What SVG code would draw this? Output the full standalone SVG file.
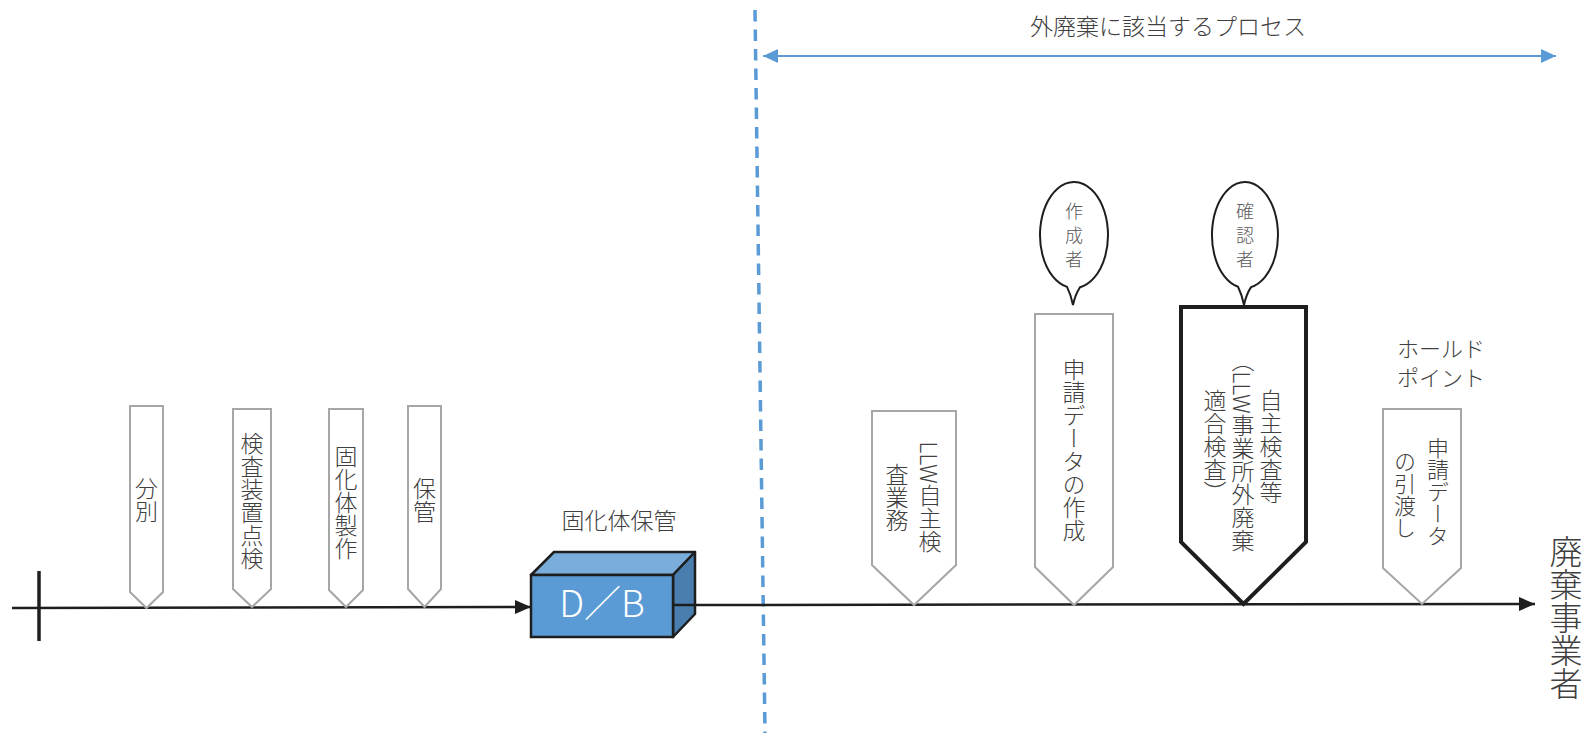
<svg xmlns="http://www.w3.org/2000/svg" width="1588" height="741" viewBox="0 0 1588 741">
<style>
  text { font-family: "Noto Sans CJK JP", "Noto Sans", sans-serif; font-weight: 300; fill: #404040; }
  .vt { writing-mode: vertical-rl; text-anchor: middle; font-size: 23px; }
  .pent { fill: #ffffff; stroke: #a6a6a6; stroke-width: 2; stroke-linejoin: miter; }
  .pentb { fill: #ffffff; stroke: #1e1e1e; stroke-width: 4; stroke-linejoin: miter; }
  .base { fill: none; stroke: #1e1e1e; stroke-width: 2.5; }
  .blue { fill: none; stroke: #5b9bd5; }
  .bubble { fill: #ffffff; stroke: #1e1e1e; stroke-width: 2; }
  .btxt { font-size: 18px; text-anchor: middle; fill: #595959; }
</style>
<defs>
  <marker id="ah" markerUnits="userSpaceOnUse" markerWidth="16" markerHeight="14" refX="16" refY="7" orient="auto">
    <path d="M0,0 L16,7 L0,14 Z" fill="#1e1e1e"/>
  </marker>
  <marker id="bh" markerUnits="userSpaceOnUse" markerWidth="15" markerHeight="14" refX="15" refY="7" orient="auto-start-reverse">
    <path d="M0,0 L15,7 L0,14 Z" fill="#5b9bd5"/>
  </marker>
</defs>
<rect width="1588" height="741" fill="#ffffff"/>

<g id="connectors">
  <line class="base" x1="12" y1="608" x2="531" y2="607" marker-end="url(#ah)"/>
  <line x1="39" y1="571" x2="39" y2="641" stroke="#1e1e1e" stroke-width="3.5"/>
  <line class="blue" x1="755" y1="10" x2="765" y2="733" stroke-width="3.5" stroke-dasharray="11.5 8"/>
  <line class="blue" x1="763" y1="56" x2="1556" y2="56" stroke-width="2" marker-start="url(#bh)" marker-end="url(#bh)"/>
  <line class="base" x1="673" y1="605" x2="1535" y2="604" marker-end="url(#ah)"/>
  <text x="1168" y="35" font-size="23" text-anchor="middle">外廃棄に該当するプロセス</text>
</g>

<g id="n-bunbetsu">
  <path class="pent" d="M130,406 H163 V592 L146.5,608 L130,592 Z"/>
  <text class="vt" x="146.5" y="500">分別</text>
</g>
<g id="n-tenken">
  <path class="pent" d="M233,409 H271 V589 L252,607 L233,589 Z"/>
  <text class="vt" x="252" y="501">検査装置点検</text>
</g>
<g id="n-seisaku">
  <path class="pent" d="M329,409 H363 V590 L346,607 L329,590 Z"/>
  <text class="vt" x="346" y="502">固化体製作</text>
</g>
<g id="n-hokan">
  <path class="pent" d="M408,406 H441 V589 L424.5,607 L408,589 Z"/>
  <text class="vt" x="424.5" y="500">保管</text>
</g>

<g id="n-db">
  <text x="619" y="529" font-size="23" text-anchor="middle">固化体保管</text>
  <path d="M531,575 L554,552 H695 L673,575 Z" fill="#7aaddb" stroke="#1e1e1e" stroke-width="2.5" stroke-linejoin="round"/>
  <path d="M673,575 L695,552 V614 L673,637 Z" fill="#4a7eae" stroke="#1e1e1e" stroke-width="2.5" stroke-linejoin="round"/>
  <rect x="531" y="575" width="142" height="62" fill="#5b9bd5" stroke="#1e1e1e" stroke-width="2.5"/>
  <line x1="673" y1="605" x2="695" y2="605" stroke="#1e1e1e" stroke-width="2.5"/>
  <text x="602" y="617" font-size="37" text-anchor="middle" style="fill:#ffffff">D／B</text>
</g>

<g id="n-llw">
  <path class="pent" d="M872,411 H956 V565 L914,605 L872,565 Z"/>
  <text class="vt" x="930" y="497">LLW自主検</text>
  <text class="vt" x="897" y="497">査業務</text>
</g>

<g id="n-sakusei">
  <path class="pent" d="M1035,314 H1113 V567 L1074,605 L1035,567 Z"/>
  <text class="vt" x="1074" y="450">申請データの作成</text>
</g>
<g id="bubble-sakuseisha">
  <path class="bubble" d="M1080,287.2 A34,53 0 1 0 1067,286.9 Q1071,295 1073,305 Q1075,295 1080,287.2 Z"/>
  <text class="btxt"><tspan x="1074" y="218">作</tspan><tspan x="1074" y="242">成</tspan><tspan x="1074" y="266">者</tspan></text>
</g>

<g id="n-jishu">
  <path class="pentb" d="M1181,307 H1306 V542 L1243.5,604 L1181,542 Z"/>
  <text class="vt" x="1271" y="446">自主検査等</text>
  <text class="vt" x="1243" y="450">（LLW事業所外廃棄</text>
  <text class="vt" x="1215" y="446">適合検査）</text>
</g>
<g id="bubble-kakuninsha">
  <path class="bubble" d="M1251,287.1 A33,53 0 1 0 1238,286.8 Q1242,295 1244,305 Q1246,295 1251,287.1 Z"/>
  <text class="btxt"><tspan x="1245" y="218">確</tspan><tspan x="1245" y="242">認</tspan><tspan x="1245" y="266">者</tspan></text>
</g>

<g id="n-hikiwatashi">
  <text x="1397" y="357" font-size="22">ホールド</text>
  <text x="1397" y="386" font-size="22">ポイント</text>
  <path class="pent" d="M1383,409 H1461 V568 L1422,604 L1383,568 Z"/>
  <text class="vt" x="1438" y="492" style="font-size:22px">申請データ</text>
  <text class="vt" x="1405" y="495" style="font-size:22px">の引渡し</text>
</g>

<g id="n-haiki">
  <text class="vt" x="1566" y="617" style="font-size:33px">廃棄事業者</text>
</g>
</svg>
